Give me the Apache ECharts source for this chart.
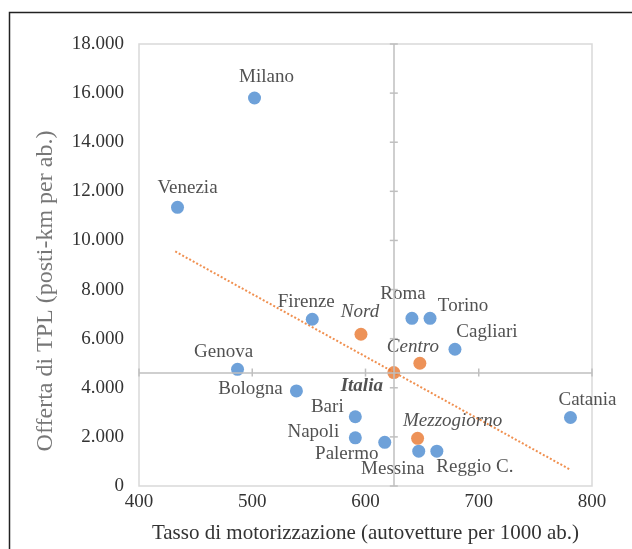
<!DOCTYPE html>
<html><head><meta charset="utf-8">
<script src="https://cdn.jsdelivr.net/npm/echarts@6/dist/echarts.min.js"></script>
<style>html,body{margin:0;padding:0;background:#fff}#c{width:632px;height:549px}</style>
</head><body><div id="c"></div>
<script>
// ---- data ----
const cityNames = ['Milano','Venezia','Firenze','Genova','Bologna','Roma','Torino','Cagliari','Bari','Napoli','Palermo','Messina','Reggio C.','Catania'];
const cityX = [502, 434, 553, 487, 539, 641, 657, 679, 591, 591, 617, 647, 663, 781];
const cityY = [15800, 11350, 6790, 4750, 3870, 6830, 6830, 5570, 2820, 1960, 1780, 1420, 1420, 2790];
const areaNames = ['Nord','Centro','Mezzogiorno','Italia'];
const areaX = [596, 648, 646, 625];
const areaY = [6180, 5000, 1940, 4620];
const trendX = [432, 781];
const trendY = [9550, 660];
const xTicks = [400, 500, 600, 700, 800];
const yTicks = [0, 2000, 4000, 6000, 8000, 10000, 12000, 14000, 16000, 18000];
const xTitle = 'Tasso di motorizzazione (autovetture per 1000 ab.)';
const yTitle = 'Offerta di TPL (posti-km per ab.)';

// label placement (pixel offsets from the dot centre)
const labelOffsets = {
  'Milano':[12,-21], 'Venezia':[10,-19], 'Firenze':[-6,-17], 'Genova':[-14,-17],
  'Bologna':[-46,-2], 'Roma':[-9,-24], 'Torino':[33,-12], 'Cagliari':[32,-17],
  'Bari':[-28,-10], 'Napoli':[-42,-6], 'Palermo':[-38,12], 'Messina':[-26,18],
  'Reggio C.':[38,16], 'Catania':[17,-17],
  'Nord':[-1,-22], 'Centro':[-7,-16], 'Mezzogiorno':[35,-17], 'Italia':[-32,14]
};

const FONT = '"Liberation Serif","Times New Roman",serif';
const fmt = v => String(v).replace(/\B(?=(\d{3})+(?!\d))/g, '.');
const italia = areaNames.indexOf('Italia');
const crossX = areaX[italia], crossY = areaY[italia];

const cityData = cityNames.map((n, i) => ({
  name: n, value: [cityX[i], cityY[i]],
  label: { offset: labelOffsets[n] }
}));
const areaData = areaNames.map((n, i) => ({
  name: n, value: [areaX[i], areaY[i]],
  label: { offset: labelOffsets[n], fontStyle: 'italic', fontWeight: n === 'Italia' ? 'bold' : 'normal' }
}));

const tickData = yTicks.map(v => [crossX, v, 'v']).concat(xTicks.map(v => [v, crossY, 'h']));

const chart = echarts.init(document.getElementById('c'));
chart.setOption({
  animation: false,
  backgroundColor: '#fff',
  textStyle: { fontFamily: FONT },
  grid: { left: 139, top: 44, width: 453, height: 443, show: true, borderColor: '#d9d9d9', borderWidth: 1.5, containLabel: false },
  xAxis: {
    type: 'value', min: 400, max: 800, interval: 100,
    axisLine: { show: false }, axisTick: { show: false }, splitLine: { show: false },
    axisLabel: { fontSize: 19, color: '#333', margin: 7, fontFamily: FONT },
    name: xTitle, nameLocation: 'middle', nameGap: 37,
    nameTextStyle: { fontSize: 21, color: '#333', fontFamily: FONT }
  },
  yAxis: {
    type: 'value', min: 0, max: 18000, interval: 2000,
    axisLine: { show: false }, axisTick: { show: false }, splitLine: { show: false },
    axisLabel: { fontSize: 19, color: '#333', margin: 15, fontFamily: FONT, formatter: fmt }
  },
  graphic: [
    { type: 'rect', shape: { x: 9.5, y: 12.5, width: 700, height: 600 }, style: { fill: null, stroke: '#222', lineWidth: 1.5 }, z: 100, silent: true },
    { type: 'text', x: 46, y: 291, rotation: Math.PI / 2,
      style: { text: yTitle, fontSize: 24, fontFamily: FONT, fill: '#777', align: 'center', verticalAlign: 'middle' } }
  ],
  series: [
    {
      type: 'custom', z: 1, silent: true,
      data: tickData,
      renderItem: (params, api) => {
        const p = api.coord([api.value(0), api.value(1)]);
        const vert = tickData[params.dataIndex][2] === 'v';
        return {
          type: 'line',
          shape: vert ? { x1: p[0] - 4, y1: p[1], x2: p[0] + 4, y2: p[1] } : { x1: p[0], y1: p[1] - 4, x2: p[0], y2: p[1] + 4 },
          style: { stroke: '#bfbfbf', lineWidth: 1.5 }
        };
      },
      markLine: {
        silent: true, symbol: 'none', label: { show: false },
        lineStyle: { color: '#bfbfbf', width: 1.5, type: 'solid' },
        data: [{ xAxis: crossX }, { yAxis: crossY }]
      }
    },
    {
      type: 'line', z: 2, silent: true, symbol: 'none',
      data: trendX.map((x, i) => [x, trendY[i]]),
      lineStyle: { color: '#ED7D31', width: 2, type: 'dotted', opacity: 0.85 }
    },
    {
      type: 'scatter', name: 'Città', z: 3, symbolSize: 13,
      itemStyle: { color: '#4A89CF' },
      label: { show: true, position: 'inside', formatter: '{b}', fontSize: 19, color: '#262626', fontFamily: FONT, align: 'center', verticalAlign: 'middle' },
      data: cityData
    },
    {
      type: 'scatter', name: 'Aree', z: 4, symbolSize: 13,
      itemStyle: { color: '#E8772E' },
      label: { show: true, position: 'inside', formatter: '{b}', fontSize: 19, color: '#262626', fontFamily: FONT, align: 'center', verticalAlign: 'middle' },
      data: areaData
    }
  ]
});
</script>
</body></html>
